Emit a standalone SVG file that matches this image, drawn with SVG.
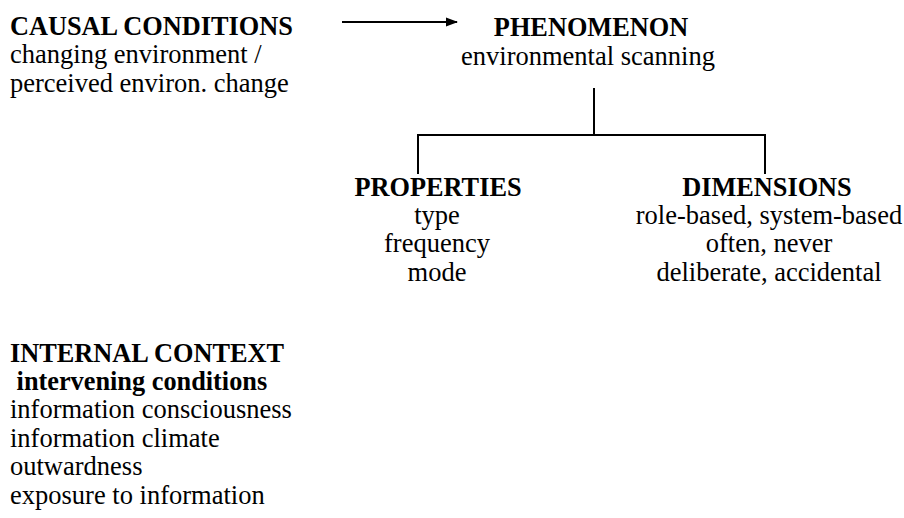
<svg xmlns="http://www.w3.org/2000/svg" width="904" height="518" viewBox="0 0 904 518">
<style>
text{font-family:"Liberation Serif","Times New Roman",serif;font-size:26.5px;fill:#000}
.b{font-weight:bold;font-size:26.3px}
.c{text-anchor:middle}
.ln{stroke:#000;stroke-width:2;fill:none}
</style>
<defs>
<marker id="ah" markerWidth="12" markerHeight="10" refX="11" refY="5" orient="auto" markerUnits="userSpaceOnUse">
<path d="M0,0.5 L12,5 L0,9.5 z" fill="#000"/>
</marker>
</defs>
<rect width="904" height="518" fill="#fff"/>
<g id="connectors">
<line class="ln" x1="342" y1="22" x2="457" y2="22" marker-end="url(#ah)"/>
<line class="ln" x1="594" y1="88" x2="594" y2="135"/>
<line class="ln" x1="418" y1="135" x2="765" y2="135"/>
<line class="ln" x1="418" y1="134" x2="418" y2="174"/>
<line class="ln" x1="765" y1="134" x2="765" y2="174"/>
</g>
<g id="causal">
<text class="b" x="10" y="35">CAUSAL CONDITIONS</text>
<text x="10" y="63">changing environment /</text>
<text x="10" y="92">perceived environ. change</text>
</g>
<g id="phenomenon">
<text class="b c" x="591" y="36">PHENOMENON</text>
<text class="c" x="588" y="64.5">environmental scanning</text>
</g>
<g id="properties">
<text class="b c" x="438" y="196">PROPERTIES</text>
<text class="c" x="437" y="224">type</text>
<text class="c" x="437" y="252">frequency</text>
<text class="c" x="437" y="281">mode</text>
</g>
<g id="dimensions">
<text class="b c" x="767" y="196">DIMENSIONS</text>
<text class="c" x="769" y="224">role-based, system-based</text>
<text class="c" x="769" y="252">often, never</text>
<text class="c" x="769" y="281">deliberate, accidental</text>
</g>
<g id="internal">
<text class="b" x="10" y="362">INTERNAL CONTEXT</text>
<text class="b" x="10" y="390" xml:space="preserve"> intervening conditions</text>
<text x="10" y="418">information consciousness</text>
<text x="10" y="447">information climate</text>
<text x="10" y="475">outwardness</text>
<text x="10" y="504">exposure to information</text>
</g>
</svg>
